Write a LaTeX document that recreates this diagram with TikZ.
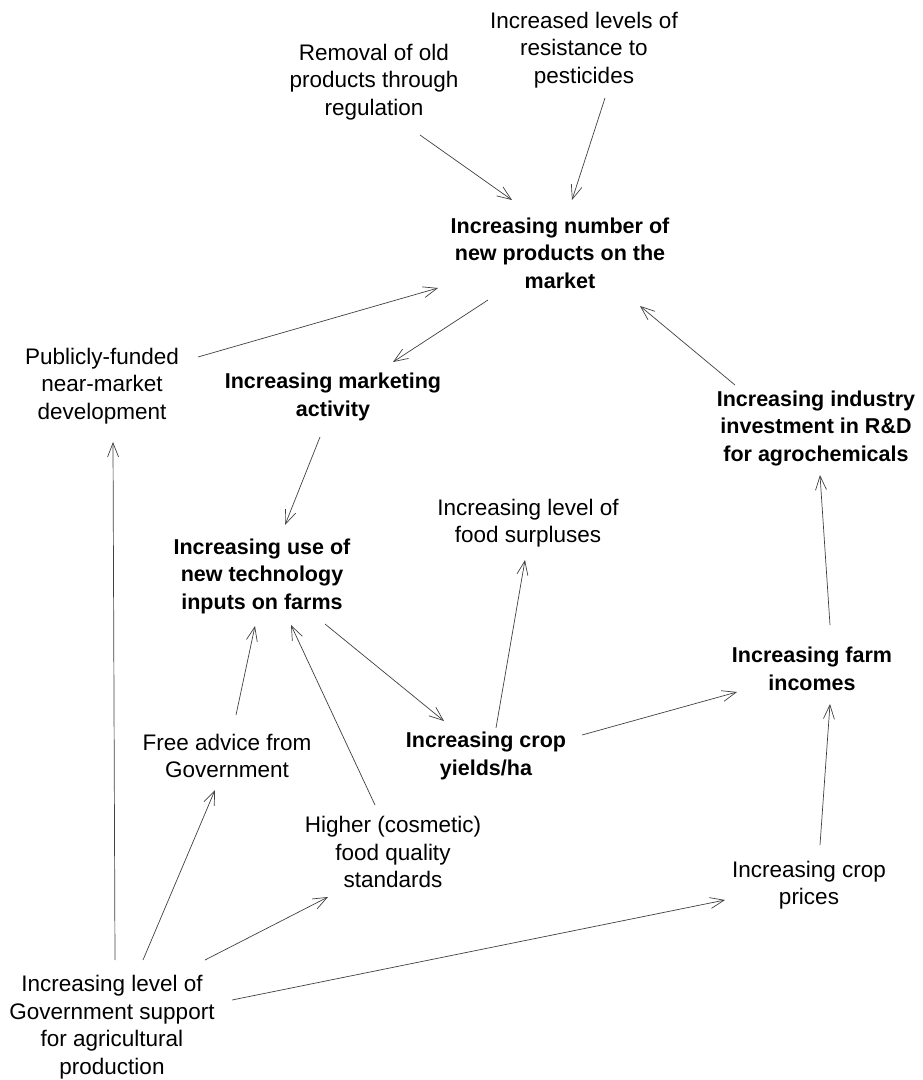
\documentclass[tikz,border=0pt]{standalone}
\usepackage{fontspec}
\setmainfont{Liberation Sans}
\newfontfamily\regf{Liberation Sans}
\newfontfamily\boldf{Liberation Sans Bold}
\usetikzlibrary{arrows.meta,calc}
\tikzset{
  reg/.style={align=center, inner sep=6pt, font=\regf\fontsize{22.5}{27.5}\selectfont},
  bld/.style={align=center, inner sep=6pt, font=\boldf\fontsize{21.5}{27.5}\selectfont},
  arr/.style={draw=black!75, line width=0.7pt, -{Straight Barb[length=14pt,width=11pt,line width=0.7pt]}}
}
\begin{document}
\begin{tikzpicture}[x=1pt,y=-1pt]
\useasboundingbox (0,0) rectangle (923,1080);
\node[reg] (rem) at (374,82) {Removal of old\\products through\\regulation};
\node[reg] (res) at (584,50) {Increased levels of\\resistance to\\pesticides};
\node[bld] (np) at (560,253) {Increasing number of\\new products on the\\market};
\node[reg] (pub) at (102,386) {Publicly-funded\\near-market\\development};
\node[bld] (mkt) at (333,397) {Increasing marketing\\activity};
\node[bld] (rd) at (816,428) {Increasing industry\\investment in R\&D\\for agrochemicals};
\node[reg] (sur) at (528,523) {Increasing level of\\food surpluses};
\node[bld] (tech) at (262,576) {Increasing use of\\new technology\\inputs on farms};
\node[bld] (inc) at (812,669) {Increasing farm\\incomes};
\node[bld] (yld) at (486,756) {Increasing crop\\yields/ha};
\node[reg] (adv) at (227,756) {Free advice from\\Government};
\node[reg] (qual) at (393,852) {Higher (cosmetic)\\food quality\\standards};
\node[reg] (pri) at (809,885) {Increasing crop\\prices};
\node[reg] (gov) at (112,1027) {Increasing level of\\Government support\\for agricultural\\production};

\draw[arr] ($(rem)+(46,53)$) -- ($(np)+(-48,-53)$);
\draw[arr] ($(res)+(21,48)$) -- ($(np)+(12,-53)$);
\draw[arr] ($(pub)+(96,-29)$) -- ($(np)+(-122,35)$);
\draw[arr] ($(np)+(-72,47)$) -- ($(mkt)+(60,-35)$);
\draw[arr] ($(rd)+(-81,-43)$) -- ($(np)+(80,53)$);
\draw[arr] ($(mkt)+(-13,40)$) -- ($(tech)+(23,-51)$);
\draw[arr] ($(adv)+(9,-41)$) -- ($(tech)+(-7,50)$);
\draw[arr] ($(qual)+(-18,-47)$) -- ($(tech)+(29,49)$);
\draw[arr] ($(tech)+(63,48)$) -- ($(yld)+(-42,-35)$);
\draw[arr] ($(yld)+(10,-28)$) -- ($(sur)+(-3,37)$);
\draw[arr] ($(yld)+(96,-21)$) -- ($(inc)+(-75,23)$);
\draw[arr] ($(inc)+(18,-44)$) -- ($(rd)+(4,47)$);
\draw[arr] ($(pri)+(11,-40)$) -- ($(inc)+(18,35)$);
\draw[arr] ($(gov)+(3,-67)$) -- ($(pub)+(11,56)$);
\draw[arr] ($(gov)+(31,-67)$) -- ($(adv)+(-12,34)$);
\draw[arr] ($(gov)+(93,-67)$) -- ($(qual)+(-65,45)$);
\draw[arr] ($(gov)+(120,-27)$) -- ($(pri)+(-84,15)$);
\end{tikzpicture}
\end{document}
